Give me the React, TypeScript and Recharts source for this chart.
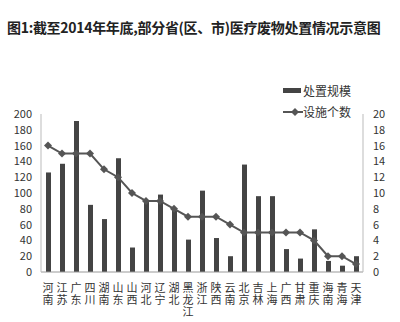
import { Bar, ComposedChart, Legend, Line, XAxis, YAxis } from "recharts";

const provinces = [
  "河南", "江苏", "广东", "四川", "湖南", "山东", "山西", "河北", "辽宁", "湖北", "黑龙江", "浙江",
  "陕西", "云南", "北京", "吉林", "上海", "广西", "甘肃", "重庆", "海南", "青海", "天津",
];
const scaleValues = [126, 137, 191, 85, 67, 144, 31, 90, 98, 81, 41, 103, 43, 20, 136, 96, 96, 29, 17, 54, 14, 8, 20];
const facilityCounts = [16, 15, 15, 15, 13, 12, 10, 9, 9, 8, 7, 7, 7, 6, 5, 5, 5, 5, 5, 4, 2, 2, 1];
const leftTicks = [0, 20, 40, 60, 80, 100, 120, 140, 160, 180, 200];
const rightTicks = [0, 2, 4, 6, 8, 10, 12, 14, 16, 18, 20];

const data = provinces.map((name, i) => ({ name, scale: scaleValues[i], count: facilityCounts[i] }));

const FONT = '"Noto Sans CJK SC", "Noto Sans", sans-serif';
const DARK = "#444";

// province names run top to bottom under each bar
function VerticalTick({ x, y, payload }: any) {
  return (
    <text
      x={x}
      y={y + 2}
      fontSize={11}
      fill="#333"
      fontFamily={FONT}
      style={{ writingMode: "vertical-rl", letterSpacing: 1 }}
    >
      {payload.value}
    </text>
  );
}

function Diamond({ cx, cy }: any) {
  if (cx == null || cy == null) return null;
  return <path d={`M${cx},${cy - 4}L${cx + 4},${cy}L${cx},${cy + 4}L${cx - 4},${cy}Z`} fill="#555" />;
}

function LegendBox() {
  return (
    <div style={{ fontFamily: FONT, fontSize: 12, color: "#333", lineHeight: "21px" }}>
      <div style={{ display: "flex", alignItems: "center" }}>
        <span style={{ display: "inline-block", width: 18, height: 5, background: DARK, marginRight: 2 }} />
        处置规模
      </div>
      <div style={{ display: "flex", alignItems: "center" }}>
        <svg width={20} height={10}>
          <line x1={0} y1={5} x2={20} y2={5} stroke="#555" strokeWidth={2} />
          <path d="M12,1L16,5L12,9L8,5Z" fill="#555" />
        </svg>
        设施个数
      </div>
    </div>
  );
}

export default function App() {
  return (
    <div style={{ position: "relative", width: 400, height: 322, background: "#fff" }}>
      <style>{"body{margin:0}"}</style>
      <div
        style={{
          position: "absolute",
          left: 7,
          top: 17,
          fontFamily: FONT,
          fontSize: 14,
          fontWeight: "bold",
          color: "#222",
          whiteSpace: "nowrap",
          letterSpacing: -0.3,
        }}
      >
        图1:截至2014年年底,部分省(区、市)医疗废物处置情况示意图
      </div>
      <ComposedChart width={400} height={322} data={data} margin={{ top: 72, right: 0, bottom: 0, left: 0 }}>
        <XAxis
          dataKey="name"
          interval={0}
          height={50}
          tick={<VerticalTick />}
          tickLine={false}
          stroke="#999"
        />
        <YAxis
          yAxisId="left"
          domain={[0, 200]}
          ticks={leftTicks}
          interval={0}
          width={41}
          tickSize={0}
          tickMargin={9}
          stroke="#bbb"
          tick={{ fontSize: 11, fill: "#333", fontFamily: FONT }}
        />
        <YAxis
          yAxisId="right"
          orientation="right"
          domain={[0, 20]}
          ticks={rightTicks}
          interval={0}
          width={37}
          tickSize={0}
          tickMargin={10}
          stroke="#bbb"
          tick={{ fontSize: 11, fill: "#333", fontFamily: FONT, textAnchor: "start" }}
        />
        <Legend
          verticalAlign="top"
          layout="vertical"
          wrapperStyle={{ top: 80, left: 283, width: 80 }}
          content={() => <LegendBox />}
        />
        <Bar yAxisId="left" dataKey="scale" name="处置规模" fill={DARK} barSize={5} isAnimationActive={false} />
        <Line
          yAxisId="right"
          dataKey="count"
          name="设施个数"
          type="linear"
          stroke="#555"
          strokeWidth={2}
          dot={<Diamond />}
          activeDot={false}
          isAnimationActive={false}
        />
      </ComposedChart>
    </div>
  );
}
